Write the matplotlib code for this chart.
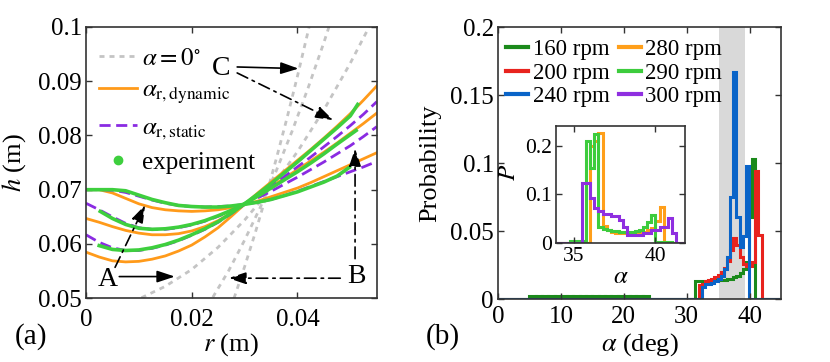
import numpy as np
import matplotlib
matplotlib.use("Agg")
import matplotlib.pyplot as plt
from matplotlib.lines import Line2D

plt.rcParams['font.family'] = ['Liberation Serif', 'DejaVu Serif']
plt.rcParams['mathtext.fontset'] = 'stix'

# ---- panel (a): free-surface profiles ----
r_grid = [0, 0.0025, 0.005, 0.0075, 0.01, 0.0125, 0.015, 0.0175, 0.02, 0.0225, 0.025, 0.0275,
          0.03, 0.0325, 0.035, 0.0375, 0.04, 0.0425, 0.045, 0.0475, 0.05, 0.0525, 0.055]

dyn_low = [0.0700, 0.0700, 0.0694, 0.0684, 0.0674, 0.0667, 0.0663, 0.0661, 0.0660, 0.0661, 0.0663, 0.0667,
           0.0673, 0.0679, 0.0687, 0.0695, 0.0703, 0.0713, 0.0724, 0.0735, 0.0746, 0.0757, 0.0768]
dyn_mid = [0.0647, 0.0640, 0.0632, 0.0625, 0.0620, 0.0617, 0.0617, 0.0619, 0.0624, 0.0632, 0.0643, 0.0657,
           0.0673, 0.0689, 0.0705, 0.0721, 0.0737, 0.0753, 0.0769, 0.0786, 0.0804, 0.0822, 0.0841]
dyn_high = [0.0585, 0.0576, 0.0569, 0.0567, 0.0568, 0.0572, 0.0578, 0.0587, 0.0598, 0.0613, 0.0630, 0.0651,
            0.0673, 0.0694, 0.0714, 0.0734, 0.0754, 0.0774, 0.0795, 0.0817, 0.0840, 0.0865, 0.0891]

stat_low = [0.0700, 0.0700, 0.0699, 0.0695, 0.0688, 0.0681, 0.0675, 0.0671, 0.0669, 0.0668, 0.0669, 0.0670,
            0.0673, 0.0677, 0.0682, 0.0689, 0.0697, 0.0706, 0.0715, 0.0724, 0.0733, 0.0742, 0.0752]
stat_mid = [0.0675, 0.0663, 0.0650, 0.0638, 0.0630, 0.0627, 0.0627, 0.0630, 0.0635, 0.0642, 0.0651, 0.0661,
            0.0673, 0.0685, 0.0697, 0.0710, 0.0723, 0.0737, 0.0751, 0.0766, 0.0781, 0.0798, 0.0816]
stat_high = [0.0617, 0.0603, 0.0593, 0.0588, 0.0588, 0.0592, 0.0598, 0.0606, 0.0616, 0.0627, 0.0640, 0.0656,
             0.0673, 0.0690, 0.0707, 0.0724, 0.0742, 0.0760, 0.0779, 0.0798, 0.0818, 0.0839, 0.0862]

exp_low_r = [0, 0.0025, 0.005, 0.0075, 0.01, 0.0125, 0.015, 0.0175, 0.02, 0.0225, 0.025, 0.0275,
             0.03, 0.0325, 0.035, 0.0375, 0.04, 0.0425, 0.045, 0.0475, 0.0498]
exp_low_h = [0.0700, 0.0700, 0.0700, 0.0698, 0.0690, 0.0682, 0.0676, 0.0671, 0.0669, 0.0668, 0.0668, 0.0670,
             0.0673, 0.0677, 0.0682, 0.0689, 0.0696, 0.0705, 0.0714, 0.0725, 0.0741]
exp_mid_r = [0.0027, 0.005, 0.0075, 0.01, 0.0125, 0.015, 0.0175, 0.02, 0.0225, 0.025, 0.0275,
             0.03, 0.0325, 0.035, 0.0375, 0.04, 0.0425, 0.045, 0.0475, 0.0511]
exp_mid_h = [0.0660, 0.0647, 0.0636, 0.0629, 0.0627, 0.0628, 0.0631, 0.0636, 0.0643, 0.0652, 0.0662,
             0.0674, 0.0688, 0.0703, 0.0718, 0.0733, 0.0749, 0.0766, 0.0784, 0.0809]
exp_high_r = [0.0025, 0.005, 0.0075, 0.01, 0.0125, 0.015, 0.0175, 0.02, 0.0225, 0.025, 0.0275,
              0.03, 0.0325, 0.035, 0.0375, 0.04, 0.0425, 0.045, 0.0475, 0.05, 0.0514]
exp_high_h = [0.0597, 0.0590, 0.0588, 0.0589, 0.0593, 0.0599, 0.0607, 0.0617, 0.0628, 0.0641, 0.0657,
              0.0674, 0.0692, 0.0711, 0.0731, 0.0751, 0.0772, 0.0793, 0.0814, 0.0836, 0.0857]

flat_a_r = [0.0105, 0.015, 0.02, 0.025, 0.03, 0.035, 0.04, 0.045, 0.05, 0.054]
flat_a_h = [0.0501, 0.0522, 0.0553, 0.0594, 0.0644, 0.0702, 0.0770, 0.0847, 0.0933, 0.1008]
flat_b_r = [0.024, 0.027, 0.03, 0.033, 0.036, 0.039, 0.042, 0.045, 0.0465]
flat_b_h = [0.0502, 0.0551, 0.0607, 0.0668, 0.0735, 0.0808, 0.0887, 0.0971, 0.1016]
flat_c_r = [0.028, 0.03, 0.032, 0.034, 0.036, 0.038, 0.04, 0.042, 0.0425]
flat_c_h = [0.0500, 0.0558, 0.0620, 0.0686, 0.0757, 0.0831, 0.0909, 0.0991, 0.1013]

# ---- panel (b): angle histograms ----
main_edges = [0, 30.9, 31.4, 31.9, 32.4, 32.9, 33.4, 33.9, 34.4, 34.9, 35.4, 35.9, 36.4, 36.9,
              37.4, 37.9, 38.4, 38.9, 39.4, 39.9, 40.4, 40.9, 41.4, 41.9, 42.4, 45]
p160 = [0, 0, 0.013, 0.013, 0.013, 0.012, 0.013, 0.013, 0.014, 0.014, 0.014, 0.014, 0.015,
        0.015, 0.016, 0.017, 0.019, 0.022, 0.027, 0.060, 0.103, 0, 0, 0, 0]
p200 = [0, 0, 0, 0.010, 0.011, 0.013, 0.014, 0.015, 0.016, 0.018, 0.020, 0.023, 0.028,
        0.036, 0.045, 0.040, 0.031, 0.026, 0.024, 0.024, 0.027, 0.094, 0.047, 0, 0]
p240 = [0, 0, 0, 0, 0.009, 0.011, 0.011, 0.012, 0.013, 0.015, 0.017, 0.022, 0.031,
        0.075, 0.167, 0.060, 0.038, 0.046, 0.098, 0, 0, 0, 0, 0, 0]
low160_edges = [5, 6, 7, 8, 9, 10, 11, 12, 13, 14, 15, 16, 17, 18, 19, 20, 21, 22, 23, 24]
low160_vals = [0.0025, 0.0025, 0.0025, 0.0025, 0.0025, 0.0025, 0.0025, 0.0025, 0.0025, 0.0025,
               0.0025, 0.0025, 0.0025, 0.0025, 0.0025, 0.0025, 0.0025, 0.0025, 0.0025]

inset_edges = [33.75, 34.0, 34.25, 34.5, 34.75, 35.0, 35.25, 35.5, 35.75, 36.0, 36.25, 36.5, 36.75,
               37.0, 37.25, 37.5, 37.75, 38.0, 38.25, 38.5, 38.75, 39.0, 39.25, 39.5, 39.75, 40.0,
               40.25, 40.5, 40.75, 41.0, 41.25, 41.5, 41.75, 42.0]
p280 = [0, 0, 0, 0, 0, 0, 0, 0, 0, 0.200, 0.210, 0.226, 0.035, 0.028, 0.024, 0.022, 0.021,
        0.020, 0.020, 0.020, 0.021, 0.022, 0.024, 0.027, 0.032, 0.045, 0.075, 0, 0, 0, 0, 0, 0]
p290 = [0, 0, 0, 0, 0.004, 0.004, 0.005, 0.005, 0.209, 0.154, 0.224, 0.034, 0.030, 0.027, 0.026,
        0.025, 0.024, 0.023, 0.023, 0.024, 0.025, 0.027, 0.034, 0.044, 0.058, 0.003, 0.003, 0.003,
        0.003, 0, 0, 0, 0]
p300 = [0, 0, 0, 0, 0, 0, 0, 0.123, 0.123, 0.092, 0.072, 0.066, 0.060, 0.060, 0.056, 0.056, 0.048,
        0.034, 0.017, 0.017, 0.017, 0.017, 0.020, 0.020, 0.027, 0.027, 0.034, 0.034, 0.051, 0.020,
        0, 0, 0]

speeds = ['160 rpm', '200 rpm', '240 rpm', '280 rpm', '290 rpm', '300 rpm']
speed_colors = ['#1b8a1b', '#e8231e', '#0a64c8', '#ff9f1a', '#3dcc3d', '#8f2fe0']

c_orange = '#ff9a1a'
c_purple = '#8a2be2'
c_green = '#3ecf3e'
c_gray = '#c4c4c4'
spine_c = '#333333'


def style_axes(ax, size):
    for s in ax.spines.values():
        s.set_color(spine_c)
        s.set_linewidth(1.2)
    ax.tick_params(direction='in', top=True, right=True, length=4, width=1,
                   color=spine_c, labelsize=size)


fig = plt.figure(figsize=(8.3, 3.62), dpi=100)

# ---------- (a) ----------
ax = fig.add_axes([0.1036, 0.176, 0.3503, 0.750])
gray_ls = (0, (1.8, 1.8))
for rr, hh in [(flat_a_r, flat_a_h), (flat_b_r, flat_b_h), (flat_c_r, flat_c_h)]:
    ax.plot(rr, hh, color=c_gray, lw=2, ls=gray_ls)
for hh in [dyn_low, dyn_mid, dyn_high]:
    ax.plot(r_grid, hh, color=c_orange, lw=2)
for hh in [stat_low, stat_mid, stat_high]:
    ax.plot(r_grid, hh, color=c_purple, lw=2, ls=(0, (4, 2)))
for rr, hh in [(exp_low_r, exp_low_h), (exp_mid_r, exp_mid_h), (exp_high_r, exp_high_h)]:
    ax.plot(rr, hh, color=c_green, lw=2.6)

ax.set_xlim(0, 0.055)
ax.set_ylim(0.05, 0.1)
ax.set_xticks([0, 0.02, 0.04])
ax.set_xticklabels(['0', '0.02', '0.04'])
ax.set_yticks([0.05, 0.06, 0.07, 0.08, 0.09, 0.1])
ax.set_yticklabels(['0.05', '0.06', '0.07', '0.08', '0.09', '0.1'])
style_axes(ax, 18)
ax.tick_params(axis='x', pad=8)
ax.tick_params(axis='y', pad=3)
ax.set_xlabel(r'$r$ (m)', fontsize=19)
ax.set_ylabel(r'$h$ (m)', fontsize=19)
ax.xaxis.set_label_coords(0.5, -0.12)
ax.yaxis.set_label_coords(-0.2, 0.5)

leg_handles = [Line2D([], [], color=c_gray, lw=2, ls=gray_ls),
               Line2D([], [], color=c_orange, lw=2),
               Line2D([], [], color=c_purple, lw=2, ls=(0, (4, 2))),
               Line2D([], [], color=c_green, marker='o', ls='none', markersize=6)]
leg_labels = [r'$\alpha = 0^{\circ}$', r'$\alpha_{\mathrm{r,dynamic}}$',
              r'$\alpha_{\mathrm{r,static}}$', 'experiment']
ax.legend(leg_handles, leg_labels, loc='upper left', bbox_to_anchor=(0.045, 0.925),
          frameon=False, fontsize=18, handlelength=1.5, handletextpad=0.2,
          labelspacing=0.4, borderpad=0, borderaxespad=0)

arrow_kw = dict(arrowstyle='-|>,head_length=0.6,head_width=0.2', color='k', lw=1.2,
                mutation_scale=18, shrinkA=0, shrinkB=0)
dashdot = (0, (7, 3, 1.5, 3))


def arrow(tip, start, dashed=False):
    kw = dict(arrow_kw)
    if dashed:
        kw['linestyle'] = dashdot
    ax.annotate('', xy=tip, xytext=start, arrowprops=kw)


ax.text(0.0042, 0.0534, 'A', fontsize=20, ha='center', va='center')
arrow((0.0168, 0.0540), (0.0063, 0.0540))
arrow((0.0112, 0.0672), (0.0055, 0.0557), dashed=True)
ax.text(0.0511, 0.0540, 'B', fontsize=20, ha='center', va='center')
arrow((0.0269, 0.0537), (0.0481, 0.0537), dashed=True)
arrow((0.0509, 0.0776), (0.0509, 0.0573), dashed=True)
ax.text(0.0256, 0.0924, 'C', fontsize=20, ha='center', va='center')
arrow((0.0402, 0.0923), (0.0286, 0.0926))
arrow((0.0468, 0.0828), (0.0286, 0.0915), dashed=True)

fig.text(0.037, 0.069, '(a)', fontsize=21, ha='center', va='center')

# ---------- (b) ----------
bx = fig.add_axes([0.600, 0.174, 0.341, 0.751])
bx.axvspan(35.1, 39.3, color='#d9d9d9', lw=0, zorder=0)
lw_h = 2.2
centers = [(a + b) / 2 for a, b in zip(low160_edges[:-1], low160_edges[1:])]
bx.bar(centers, low160_vals, width=1, fill=False, edgecolor=speed_colors[0], lw=lw_h)
bx.stairs(p160, main_edges, color=speed_colors[0], lw=lw_h)
bx.stairs(p200, main_edges, color=speed_colors[1], lw=lw_h)
bx.stairs(p240, main_edges, color=speed_colors[2], lw=lw_h)
bx.set_xlim(0, 45)
bx.set_ylim(0, 0.2)
bx.set_xticks([0, 10, 20, 30, 40])
bx.set_yticks([0, 0.05, 0.1, 0.15, 0.2])
bx.set_yticklabels(['0', '0.05', '0.1', '0.15', '0.2'])
style_axes(bx, 18)
bx.tick_params(axis='x', pad=5)
bx.tick_params(axis='y', pad=3)
bx.set_xlabel(r'$\alpha$ (deg)', fontsize=19)
bx.set_ylabel('Probability', fontsize=19)
bx.xaxis.set_label_coords(0.5, -0.12)
bx.yaxis.set_label_coords(-0.2, 0.5)

sp_handles = [Line2D([], [], color=c, lw=3) for c in speed_colors]
bx.legend(sp_handles, speeds, loc='upper left', bbox_to_anchor=(0.03, 0.955), ncol=2,
          frameon=False, fontsize=16.5, handlelength=0.95, handletextpad=0.2,
          columnspacing=0.4, labelspacing=0.1, borderpad=0, borderaxespad=0)

fig.text(0.534, 0.069, '(b)', fontsize=21, ha='center', va='center')

# inset
ix = fig.add_axes([0.670, 0.328, 0.155, 0.324])
ix.stairs(p280, inset_edges, color=speed_colors[3], lw=lw_h)
ix.stairs(p290, inset_edges, color=speed_colors[4], lw=lw_h)
ix.stairs(p300, inset_edges, color=speed_colors[5], lw=lw_h)
ix.set_xlim(33.9, 41.8)
ix.set_ylim(0, 0.24)
ix.set_xticks([35, 40])
ix.set_yticks([0, 0.1, 0.2])
ix.set_yticklabels(['0', '0.1', '0.2'])
style_axes(ix, 15.5)
ix.tick_params(pad=3)
ix.set_xlabel(r'$\alpha$', fontsize=18, labelpad=0)
ix.set_ylabel(r'$P$', fontsize=18, labelpad=-2)
ix.yaxis.set_label_coords(-0.28, 0.6)

fig.savefig('out.png', dpi=100)
